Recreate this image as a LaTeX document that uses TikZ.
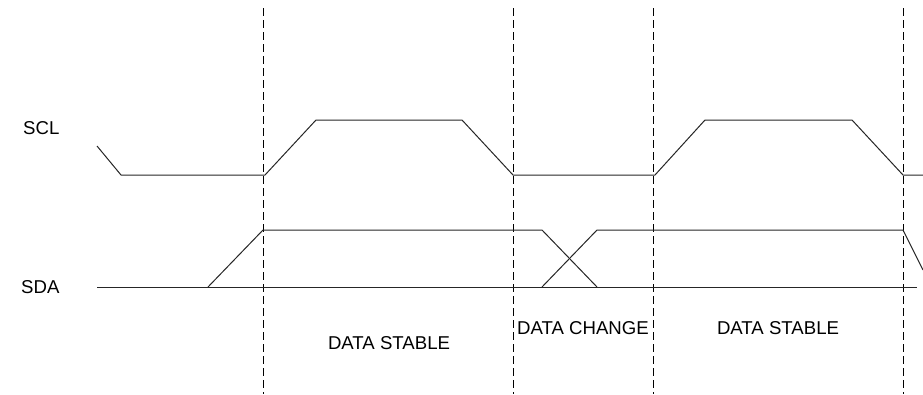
\documentclass[tikz,border=0pt]{standalone}
\usepackage{fontspec}
\setmainfont{Liberation Sans}
\begin{document}
\begin{tikzpicture}[x=1pt,y=-1pt,
  wave/.style={line width=1pt,black!85},
  guide/.style={line width=0.9pt,dash pattern=on 8pt off 4pt},
  lbl/.style={font=\fontsize{18.6}{21}\selectfont,inner sep=0pt}]
\useasboundingbox (0,0) rectangle (923,394);
% guides
\foreach \gx in {263,513,653,903}
  \draw[guide] (\gx,8) -- (\gx,394);
% SCL
\draw[wave] (97,146) -- (121,175) -- (265,175) -- (316,120) -- (462,120) -- (513,175)
  -- (655,175) -- (705,120) -- (852,120) -- (903,175) -- (923,175);
% SDA
\draw[wave] (97,287) -- (917,287);
\draw[wave] (208,287) -- (263,230) -- (542,230) -- (597,287);
\draw[wave] (542,287) -- (597,230) -- (903,230) -- (923,270);
% labels
\node[lbl,anchor=west] (scl) at (23,128) {SCL};
\node[lbl,anchor=west] (sda) at (21,287) {SDA};
\node[lbl] (ds1) at (389,343) {DATA STABLE};
\node[lbl] (dc) at (583,328) {DATA CHANGE};
\node[lbl] (ds2) at (778,328) {DATA STABLE};
\end{tikzpicture}
\end{document}
